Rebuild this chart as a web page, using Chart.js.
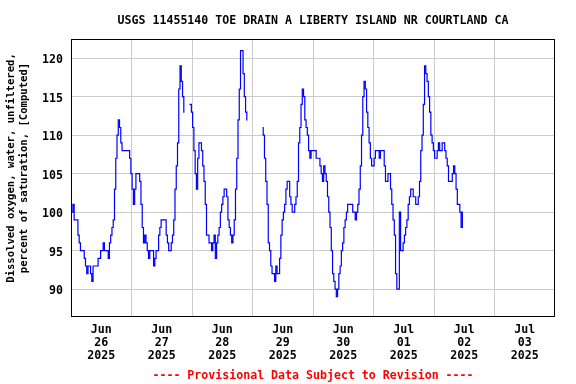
<!DOCTYPE html>
<html>
<head>
<meta charset="utf-8">
<script src="https://cdn.jsdelivr.net/npm/chart.js@4/dist/chart.umd.min.js"></script>
<style>
	html, body { margin: 0; padding: 0; background: #fff; }
	#wrap { width: 576px; height: 384px; }
</style>
</head>
<body>
<div id="wrap"><canvas id="chart-do" width="576" height="384"></canvas></div>
<script>
// half-hourly dissolved oxygen readings (% saturation), one array per day, starting 00:00
const jun26 = [100, 100, 101, 99, 99, 99, 97, 96, 95, 95, 95, 94, 93, 92, 93, 93, 92, 91, 93, 93, 93, 93, 94, 94,
	95, 95, 96, 95, 95, 95, 94, 96, 97, 98, 99, 103, 107, 110, 112, 111, 109, 108, 108, 108, 108, 108, 108, 107];
const jun27 = [105, 103, 101, 103, 105, 105, 105, 104, 101, 98, 96, 97, 96, 95, 94, 95, 95, 95, 93, 94, 95, 95, 97, 98,
	99, 99, 99, 99, 97, 96, 95, 95, 96, 97, 99, 103, 106, 109, 116, 119, 117, 115, 113, null, null, null, 114, 114];
const jun28 = [113, 111, 108, 105, 103, 107, 109, 109, 108, 106, 104, 101, 97, 97, 96, 96, 95, 96, 97, 94, 96, 97, 98, 100,
	101, 102, 103, 103, 102, 99, 98, 97, 96, 97, 99, 103, 107, 112, 116, 121, 121, 118, 115, 113, 112, null, null, null];
const jun29 = [null, null, null, null, null, null, null, null, 111, 110, 107, 104, 101, 96, 95, 93, 92, 92, 91, 93, 92, 92, 94, 97,
	99, 100, 101, 103, 104, 104, 102, 101, 100, 100, 101, 102, 104, 109, 111, 114, 116, 115, 112, 111, 110, 108, 107, 108];
const jun30 = [108, 108, 108, 107, 107, 107, 106, 105, 104, 106, 105, 104, 102, 100, 98, 95, 92, 91, 90, 89, 90, 92, 93, 95,
	96, 98, 99, 100, 101, 101, 101, 101, 100, 100, 99, 100, 101, 103, 106, 110, 115, 117, 116, 113, 111, 109, 107, 106];
const jul01 = [106, 107, 108, 108, 108, 107, 108, 108, 108, 106, 104, 104, 105, 105, 103, 101, 99, 97, 92, 90, 90, 100, 95, 95,
	96, 97, 98, 99, 101, 102, 103, 103, 102, 102, 101, 101, 102, 104, 108, 110, 114, 119, 118, 117, 115, 113, 110, 109];
const jul02 = [108, 107, 107, 108, 109, 108, 108, 109, 109, 108, 107, 106, 104, 104, 104, 105, 106, 105, 103, 101, 101, 100, 98, 100];

const days = [jun26, jun27, jun28, jun29, jun30, jul01, jul02];
const dayMonths = ['Jun', 'Jun', 'Jun', 'Jun', 'Jun', 'Jul', 'Jul', 'Jul'];
const dayNumbers = ['26', '27', '28', '29', '30', '01', '02', '03'];
const dayYear = '2025';
const yTicks = [90, 95, 100, 105, 110, 115, 120];

const titleText = 'USGS 11455140 TOE DRAIN A LIBERTY ISLAND NR COURTLAND CA';
const yLabel = ['Dissolved oxygen, water, unfiltered,', 'percent of saturation, [Computed]'];
const footerText = '---- Provisional Data Subject to Revision ----';

const MONO = '"DejaVu Sans Mono", "Liberation Mono", monospace';

let points = [];
days.forEach((vals, d) => {
	vals.forEach((v, i) => {
		points.push({ x: d + i / 48, y: v });
	});
});

// frame, title, footer and the two-line y label
const decorations = {
	id: 'decorations',
	afterDraw(chart) {
		const ctx = chart.ctx;
		const a = chart.chartArea;
		const mid = (a.left + a.right) / 2;
		ctx.save();
		ctx.strokeStyle = '#000';
		ctx.lineWidth = 1;
		ctx.strokeRect(a.left + 0.5, a.top + 0.5, a.right - a.left - 1, a.bottom - a.top);

		ctx.textAlign = 'center';
		ctx.textBaseline = 'middle';
		ctx.fillStyle = '#000';
		ctx.font = 'bold 11.6px ' + MONO;
		ctx.fillText(titleText, mid, 21);

		ctx.fillStyle = '#ff0000';
		ctx.fillText(footerText, mid, 376);

		ctx.fillStyle = '#000';
		ctx.font = 'bold 10.6px ' + MONO;
		ctx.translate(0, 168);
		ctx.rotate(-Math.PI / 2);
		ctx.fillText(yLabel[0], 0, 11);
		ctx.fillText(yLabel[1], 0, 24.5);
		ctx.restore();
	}
};

let doChartCtx = document.getElementById('chart-do');
let doChart = new Chart(doChartCtx, {
	type: 'line',
	data: {
		datasets: [{
			label: 'Dissolved oxygen',
			data: points,
			borderColor: '#0000ff',
			borderWidth: 1.2,
			pointRadius: 0,
			stepped: 'middle',
			spanGaps: false,
			fill: false
		}]
	},
	options: {
		responsive: false,
		animation: false,
		devicePixelRatio: 1,
		layout: {
			padding: { top: 39, right: 21, left: 0, bottom: 0 }
		},
		plugins: {
			legend: { display: false },
			tooltip: { enabled: false }
		},
		scales: {
			x: {
				type: 'linear',
				min: 0,
				max: 8,
				afterFit: (s) => { s.height = 68; },
				afterBuildTicks: (s) => {
					let t = [];
					for (let d = 0; d < 8; d++) {
						if (d > 0) t.push({ value: d });
						t.push({ value: d + 0.5 });
					}
					s.ticks = t;
				},
				border: { display: false },
				grid: {
					drawTicks: false,
					lineWidth: 1,
					color: (c) => (c.tick && Number.isInteger(c.tick.value)) ? '#cccccc' : 'rgba(0,0,0,0)'
				},
				ticks: {
					autoSkip: false,
					maxRotation: 0,
					padding: 8,
					color: '#000',
					font: { family: MONO, size: 11.6, weight: 'bold', lineHeight: 1.1 },
					callback: (v) => {
						if (Number.isInteger(v)) return '';
						let d = Math.floor(v);
						return [dayMonths[d], dayNumbers[d], dayYear];
					}
				}
			},
			y: {
				min: 86.5,
				max: 122.5,
				afterFit: (s) => { s.width = 71; },
				afterBuildTicks: (s) => {
					s.ticks = yTicks.map((v) => ({ value: v }));
				},
				border: { display: false },
				grid: {
					drawTicks: false,
					color: '#cccccc',
					lineWidth: 1
				},
				ticks: {
					padding: 8,
					labelOffset: 2,
					color: '#000',
					font: { family: MONO, size: 11.6, weight: 'bold' }
				}
			}
		}
	},
	plugins: [decorations]
});
</script>
</body>
</html>
